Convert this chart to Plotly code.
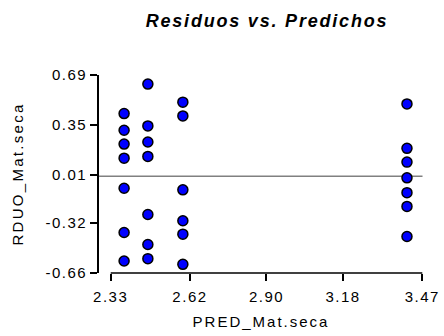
import plotly.graph_objects as go

# Predicted values (x) and residuals (y) for Mat.seca
pred = [2.379, 2.379, 2.379, 2.379, 2.379, 2.379, 2.379,
        2.466, 2.466, 2.466, 2.466, 2.466, 2.466, 2.466,
        2.594, 2.594, 2.594, 2.594, 2.594, 2.594,
        3.414, 3.414, 3.414, 3.414, 3.414, 3.414, 3.414]
resid = [0.427, 0.313, 0.219, 0.123, -0.082, -0.384, -0.578,
         0.628, 0.343, 0.233, 0.135, -0.261, -0.466, -0.562,
         0.505, 0.411, -0.093, -0.304, -0.395, -0.601,
         0.493, 0.190, 0.096, -0.011, -0.112, -0.206, -0.411]

x_ticks = [2.33, 2.62, 2.90, 3.18, 3.47]
x_tick_labels = ["2.33", "2.62", "2.90", "3.18", "3.47"]
y_ticks = [-0.66, -0.32, 0.01, 0.35, 0.69]
y_tick_labels = ["-0.66", "-0.32", "0.01", "0.35", "0.69"]

title_text = "Residuos vs. Predichos"
x_title = "PRED_Mat.seca"
y_title = "RDUO_Mat.seca"


def spaced(text, px):
    return f'<span style="letter-spacing:{px}px">{text}</span>'


FONT = "Liberation Sans, Arial, sans-serif"

fig = go.Figure()
fig.add_trace(go.Scatter(
    x=pred, y=resid, mode="markers",
    marker=dict(size=10, color="#0000FF", line=dict(color="black", width=1.5)),
    cliponaxis=False, showlegend=False, hoverinfo="x+y",
))

# zero reference line
fig.add_shape(type="line", xref="paper", yref="y", x0=0, x1=0.9985, y0=0, y1=0,
              line=dict(color="#808080", width=1.6), layer="below")
# detached x axis baseline, spanning the first to last tick
fig.add_shape(type="line", xref="x", yref="paper", x0=x_ticks[0], x1=x_ticks[-1],
              y0=0, y1=0, line=dict(color="black", width=1.6), layer="above")

fig.update_layout(
    width=444, height=336,
    margin=dict(l=99, r=21, t=75, b=63, autoexpand=False),
    paper_bgcolor="white", plot_bgcolor="white",
    font=dict(family=FONT, size=15, color="black"),
    title=dict(text=spaced(f"<b><i>{title_text}</i></b>", 1.8),
               x=267 / 444, xref="container", xanchor="center",
               y=1 - 21 / 336, yref="container", yanchor="middle",
               automargin=False,
               font=dict(family=FONT, size=18, color="black")),
    xaxis=dict(range=[2.2872, 3.4726], tickmode="array", tickvals=x_ticks,
               ticktext=[spaced(t, 1.5) for t in x_tick_labels],
               ticks="outside", ticklen=7, tickwidth=1.6, tickcolor="black",
               ticklabelstandoff=3, automargin=False,
               showline=False, showgrid=False, zeroline=False,
               title=dict(text=spaced(x_title, 2.0), standoff=12,
                          font=dict(family=FONT, size=15))),
    yaxis=dict(range=[-0.66, 0.69], tickmode="array", tickvals=y_ticks,
               ticktext=[spaced(t, 1.5) for t in y_tick_labels],
               ticks="outside", ticklen=7, tickwidth=1.6, tickcolor="black",
               automargin=False,
               showline=True, linecolor="black", linewidth=1.6,
               showgrid=False, zeroline=False,
               title=dict(text=spaced(y_title, 2.3), standoff=18,
                          font=dict(family=FONT, size=15))),
)

fig.write_html("out.html")
